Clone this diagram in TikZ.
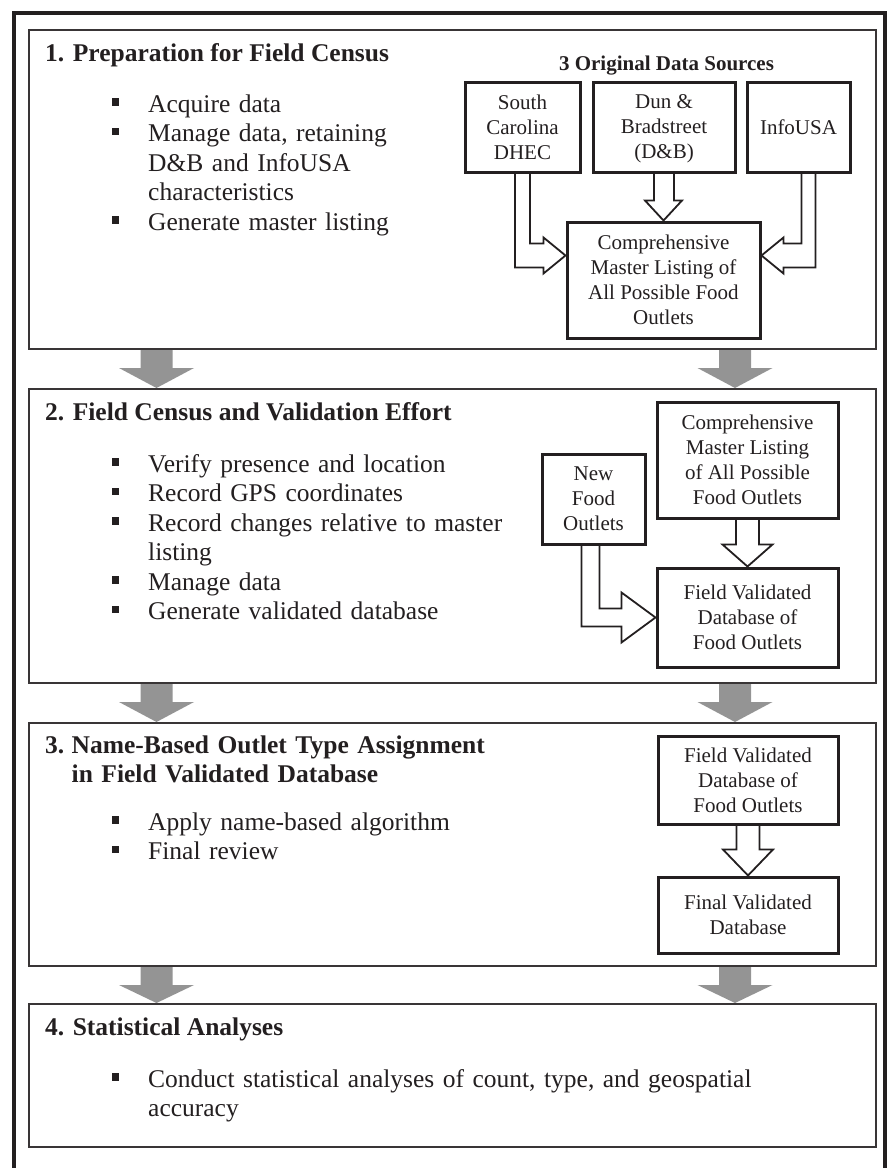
\documentclass[tikz,border=0pt]{standalone}
\usepackage{fontspec}
\setmainfont{Liberation Serif}
\usetikzlibrary{calc}
\definecolor{ink}{RGB}{35,31,32}
\definecolor{arrowgray}{RGB}{148,148,148}
\newcommand{\listfont}{\fontsize{25.5}{29.5}\selectfont}
\newcommand{\boxfont}{\fontsize{21}{25}\selectfont}
\newcommand{\sqitem}[1]{\parskip=0pt\noindent\hangindent=36pt\hangafter=1\makebox[36pt][l]{\raisebox{6.5pt}{\rule{7pt}{7.5pt}}}#1\par}
\begin{document}
\begin{tikzpicture}[x=1pt,y=-1pt,
    panel/.style={draw=ink!90,line width=2pt,minimum width=847pt,inner sep=0pt},
    srcbox/.style={draw=ink,line width=3pt,align=center,inner sep=0pt,font=\boxfont,text=ink},
    hollow/.style={draw=ink,line width=1.8pt,line join=miter},
    title/.style={anchor=base west,inner sep=0pt,font=\listfont\bfseries,text=ink},
    items/.style={anchor=base west,inner sep=0pt,text width=720pt,font=\listfont\raggedright,text=ink}]
    \useasboundingbox (0,0) rectangle (888,1168);
    \draw[line width=4pt,ink] (13.5,1168) -- (13.5,13) -- (885,13) -- (885,1168);

    \node[panel,minimum height=319pt] (prep) at (452.5,189.5) {};
    \node[panel,minimum height=294pt] (census) at (452.5,536) {};
    \node[panel,minimum height=243pt] (assign) at (452.5,844.5) {};
    \node[panel,minimum height=143pt] (stats) at (452.5,1075.5) {};
    \foreach \up/\dn in {prep/census,census/assign,assign/stats}
        \foreach \dx in {128.5,707}
            \fill[arrowgray] ($(\up.south west)+(\dx-16,0)$) -- ++(0,18) -- ++(-21.5,0) -- ($(\dn.north west)+(\dx,0)$)
                -- ($(\up.south west)+(\dx+37.5,18)$) -- ++(-21.5,0) -- ++(0,-18) -- cycle;

    % 1. preparation
    \node[title] (t1) at (45,61) {1. Preparation for Field Census};
    \node[items] (l1) at (112,112) {\sqitem{Acquire data}\sqitem{Manage data, retaining\newline D\&B and InfoUSA\newline characteristics}\sqitem{Generate master listing}};
    \node[font=\boxfont\bfseries,text=ink,anchor=base,inner sep=0pt] (srchead) at (666.5,70) {3 Original Data Sources};
    \node[srcbox,minimum width=115pt,minimum height=90pt] (dhec) at (522.5,127) {South\\Carolina\\DHEC};
    \node[srcbox,minimum width=142pt,minimum height=90pt] (dnb) at (664,127) {Dun \&\\Bradstreet\\\raisebox{0pt}[\height][0pt]{(D\&B)}};
    \node[srcbox,minimum width=103pt,minimum height=90pt] (infousa) at (798.5,127) {InfoUSA};
    \node[srcbox,minimum width=193pt,minimum height=116pt] (master) at (663.5,280) {Comprehensive\\Master Listing of\\All Possible Food\\Outlets};
    \coordinate (tipL) at ($(master.north west)+(0,35)$);
    \coordinate (tipR) at ($(master.north east)+(0,35)$);
    \draw[hollow] ($(dhec.south)+(-7.5,0)$) |- ($(tipL)+(-22,12)$) -- ++(0,6) -- (tipL) -- ($(tipL)+(-22,-18)$) -- ++(0,6) -| ($(dhec.south)+(7.5,0)$);
    \draw[hollow] ($(dnb.south)+(-10,0)$) |- ($(master.north)+(-18.5,-20)$) -- (master.north) -- ($(master.north)+(18.5,-20)$) -| ($(dnb.south)+(10,0)$);
    \draw[hollow] ($(infousa.south)+(17,0)$) |- ($(tipR)+(22,12)$) -- ++(0,6) -- (tipR) -- ($(tipR)+(22,-18)$) -- ++(0,6) -| ($(infousa.south)+(3,0)$);

    % 2. field census
    \node[title] (t2) at (45,420) {2. Field Census and Validation Effort};
    \node[items] (l2) at (112,472) {\sqitem{Verify presence and location}\sqitem{Record GPS coordinates}\sqitem{Record changes relative to master\newline listing}\sqitem{Manage data}\sqitem{Generate validated database}};
    \node[srcbox,minimum width=181pt,minimum height=116pt] (master2) at (747.5,460) {Comprehensive\\Master Listing\\of All Possible\\Food Outlets};
    \node[srcbox,minimum width=103pt,minimum height=90pt] (newfood) at (593.5,499) {New\\Food\\Outlets};
    \node[srcbox,minimum width=181pt,minimum height=99pt] (fieldval) at (747.5,617.5) {Field Validated\\Database of\\Food Outlets};
    \draw[hollow] ($(master2.south)+(-11.5,0)$) |- ($(fieldval.north)+(-25,-22)$) -- (fieldval.north) -- ($(fieldval.north)+(25,-22)$) -| ($(master2.south)+(11.5,0)$);
    \draw[hollow] ($(newfood.south)+(-12,0)$) |- ($(fieldval.west)+(-34,9)$) -- ++(0,16) -- (fieldval.west) -- ($(fieldval.west)+(-34,-25)$) -- ++(0,16) -| ($(newfood.south)+(6,0)$);

    % 3. name-based assignment
    \node[title,text width=760pt] (t3) at (45,753) {\raggedright\hangindent=26.5pt\hangafter=1\noindent\makebox[26.5pt][l]{3.}Name-Based Outlet Type Assignment\newline in Field Validated Database\par};
    \node[items] (l3) at (112,830) {\sqitem{Apply name-based algorithm}\sqitem{Final review}};
    \node[srcbox,minimum width=180pt,minimum height=88pt] (fieldval2) at (748,780) {Field Validated\\Database of\\Food Outlets};
    \node[srcbox,minimum width=180pt,minimum height=76pt] (final) at (748,915) {Final Validated\\Database};
    \draw[hollow] ($(fieldval2.south)+(-11.5,0)$) |- ($(final.north)+(-25,-26)$) -- (final.north) -- ($(final.north)+(25,-26)$) -| ($(fieldval2.south)+(11.5,0)$);

    % 4. statistics
    \node[title] (t4) at (45,1035) {4. Statistical Analyses};
    \node[items] (l4) at (112,1087) {\sqitem{Conduct statistical analyses of count, type, and geospatial\newline accuracy}};
\end{tikzpicture}
\end{document}
